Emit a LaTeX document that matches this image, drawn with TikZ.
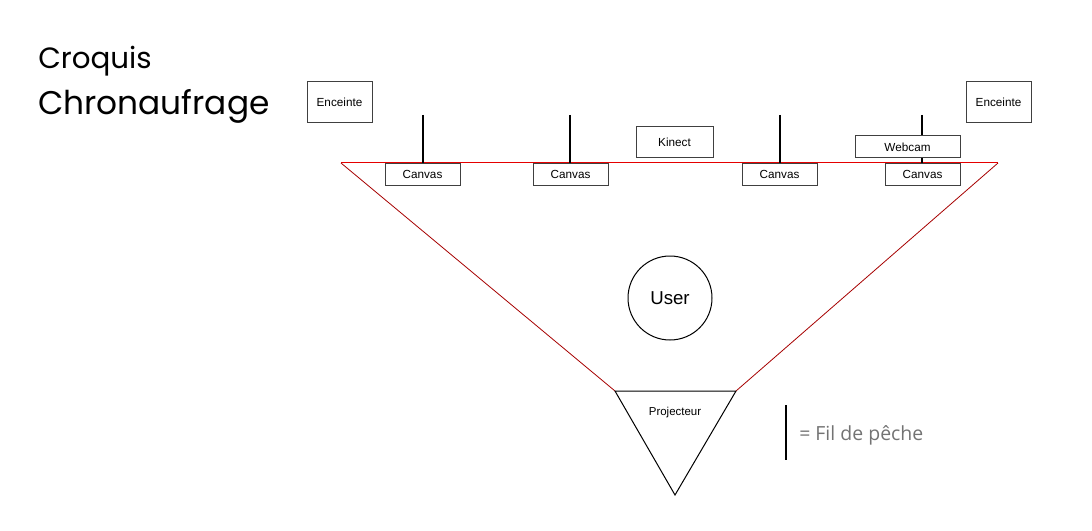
\documentclass[tikz,border=0pt]{standalone}
\usepackage{fontspec}
\setmainfont{Liberation Sans}
\newfontfamily\titlefont{Poppins}
\newfontfamily\notefont{Open Sans}
\begin{document}
\begin{tikzpicture}[x=0.75pt,y=-0.75pt,
  box/.style={draw=black!75,line width=0.75pt,fill=white,inner sep=0pt,font=\fontsize{8.8}{10}\selectfont},
  canvasbox/.style={box,minimum width=56.25pt,minimum height=16.5pt},
  fil/.style={line width=1.5pt,black},
  frame/.style={draw=red!65!black,line width=0.6pt}]
\useasboundingbox (0,0) rectangle (1092,531);
% title
\node[anchor=west,inner sep=0pt,font=\titlefont\fontsize{22}{26}\selectfont] (t1) at (38,61) {Croquis};
\node[anchor=west,inner sep=0pt,font=\titlefont\fontsize{24.6}{29}\selectfont] (t2) at (38,106) {Chronaufrage};
% projection frame
\coordinate (fl) at (341,163);
\coordinate (fr) at (998,163);
\coordinate (pl) at (615,391);
\coordinate (pr) at (736,391);
\coordinate (pb) at (675,495);
\draw[frame,draw=red!90!black,line width=0.75pt] (fl) -- (fr);
\draw[frame] (fl) -- (pl);
\draw[frame] (fr) -- (pr);
% projector
\draw[line width=0.75pt] (pl) -- (pr) -- (pb) -- cycle;
\node[font=\fontsize{8.6}{10}\selectfont] (proj) at (675,413) {Projecteur};
% user
\node[draw,circle,line width=0.75pt,minimum size=63pt,font=\fontsize{14}{16}\selectfont] (user) at (670,298) {User};
% speakers
\node[box,minimum width=48.75pt,minimum height=30.75pt] (encl) at (339.5,102.5) {Enceinte};
\node[box,minimum width=48.75pt,minimum height=30.75pt] (encr) at (998.5,102.5) {Enceinte};
% canvases
\node[canvasbox] (c1) at (422.5,174.5) {Canvas};
\node[canvasbox] (c2) at (570.5,174.5) {Canvas};
\node[canvasbox] (c3) at (779.5,174.5) {Canvas};
\node[canvasbox] (c4) at (922.5,174.5) {Canvas};
% sensors
\node[box,minimum width=57.75pt,minimum height=23.25pt] (kin) at (674.5,142.5) {Kinect};
\node[box,minimum width=78.75pt,minimum height=16.5pt] (web) at (907.5,147) {Webcam};
% fishing lines
\coordinate (h1) at (423,115);
\coordinate (h2) at (570,115);
\coordinate (h3) at (780,115);
\coordinate (h4) at (922,115);
\draw[fil] (h1) -- (h1 |- c1.north);
\draw[fil] (h2) -- (h2 |- c2.north);
\draw[fil] (h3) -- (h3 |- c3.north);
\draw[fil] (h4) -- (h4 |- web.north);
\draw[fil] (h4 |- web.south) -- (h4 |- c4.north);
% legend
\coordinate (lt) at (786,405);
\coordinate (lb) at (786,460);
\draw[fil] (lt) -- (lb);
\node[anchor=west,inner sep=0pt,text=black!55,font=\notefont\fontsize{14.6}{17}\selectfont] (leg) at (799,435) {= Fil de pêche};
\end{tikzpicture}
\end{document}
